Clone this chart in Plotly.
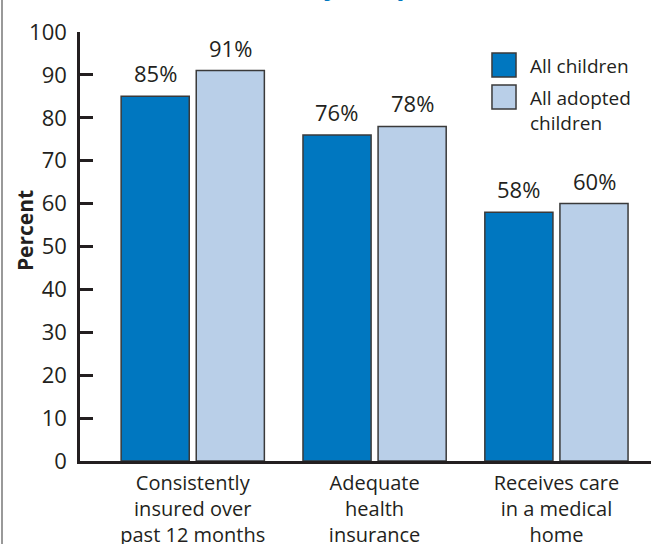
import plotly.graph_objects as go

# ---- data ----
categories = ["Consistently<br>insured over<br>past 12 months",
              "Adequate<br>health<br>insurance",
              "Receives care<br>in a medical<br>home"]
series_names = ["All children", "All adopted<br>children"]
all_children = [85, 76, 58]
all_adopted = [91, 78, 60]
y_ticks = [0, 10, 20, 30, 40, 50, 60, 70, 80, 90, 100]
title_text = "Health insurance, by adoption status"

DARK = "#0077C0"
LIGHT = "#B9CFE8"
EDGE = "#3a3a3a"
INK = "#231F20"
FONT = "Open Sans"

fig = go.Figure()
for name, vals, col in [(series_names[0], all_children, DARK),
                        (series_names[1], all_adopted, LIGHT)]:
    fig.add_trace(go.Bar(x=categories, y=vals, name=name,
                         marker=dict(color=col, line=dict(color=EDGE, width=1.5)),
                         showlegend=False, hoverinfo="skip"))

# value labels above bars (offset by group position)
offsets = [-0.207, 0.207]
for k, vals in enumerate([all_children, all_adopted]):
    for i, v in enumerate(vals):
        fig.add_annotation(x=i + offsets[k], y=v, xref="x", yref="y",
                           text=f"{v}%", showarrow=False, yanchor="bottom",
                           yshift=6, font=dict(family=FONT, size=22, color=INK))

# manual legend
leg = [(0.951, 0.895, DARK), (0.8765, 0.8205, LIGHT)]
for (y1, y0, col), name, ty in zip(leg, series_names, [0.9207, 0.818]):
    fig.add_shape(type="rect", xref="paper", yref="paper",
                  x0=0.7215, x1=0.7636, y0=y0, y1=y1,
                  fillcolor=col, line=dict(color=EDGE, width=1.5))
    fig.add_annotation(xref="paper", yref="paper", x=0.7846, y=ty,
                       xanchor="left", yanchor="middle", align="left",
                       text=name, showarrow=False,
                       font=dict(family=FONT, size=19, color=INK))

# y title
fig.add_annotation(xref="paper", yref="paper", x=-0.0963, y=0.536,
                   xanchor="center", yanchor="middle",
                   text="<b>Percent</b>", textangle=-90, showarrow=False,
                   font=dict(family=FONT, size=21, color=INK))

# clipped title at top
fig.add_annotation(xref="paper", yref="paper", x=0.403, y=1.063,
                   xanchor="center", yanchor="bottom",
                   text=f"<b>{title_text}</b>", showarrow=False,
                   font=dict(family=FONT, size=27, color=DARK))

# left frame line
fig.add_shape(type="line", xref="paper", yref="paper",
              x0=-0.1366, x1=-0.1366, y0=-0.3, y1=1.2,
              line=dict(color="#777777", width=1.5))

fig.update_layout(
    width=657, height=544,
    margin=dict(l=80, r=6, t=32, b=83),
    paper_bgcolor="white", plot_bgcolor="white",
    barmode="group", bargap=0.174, bargroupgap=0.093,
    font=dict(family=FONT, size=22, color=INK),
)
fig.update_xaxes(range=[-0.62, 2.52], showline=True, linecolor=INK, linewidth=2.5,
                 ticks="", showgrid=False, tickfont=dict(size=20),
                 ticklabelstandoff=2, automargin=False)
fig.update_yaxes(range=[0, 100], tickvals=y_ticks, showline=True, linecolor=INK,
                 linewidth=2.5, ticks="inside", ticklen=13, tickwidth=2.5,
                 tickcolor=INK, showgrid=False, zeroline=False,
                 tickfont=dict(size=22), ticklabelstandoff=6, automargin=False)

fig.write_html("out.html", config={"displayModeBar": False},
               post_script="document.body.style.margin='0';document.body.style.overflow='hidden';")
